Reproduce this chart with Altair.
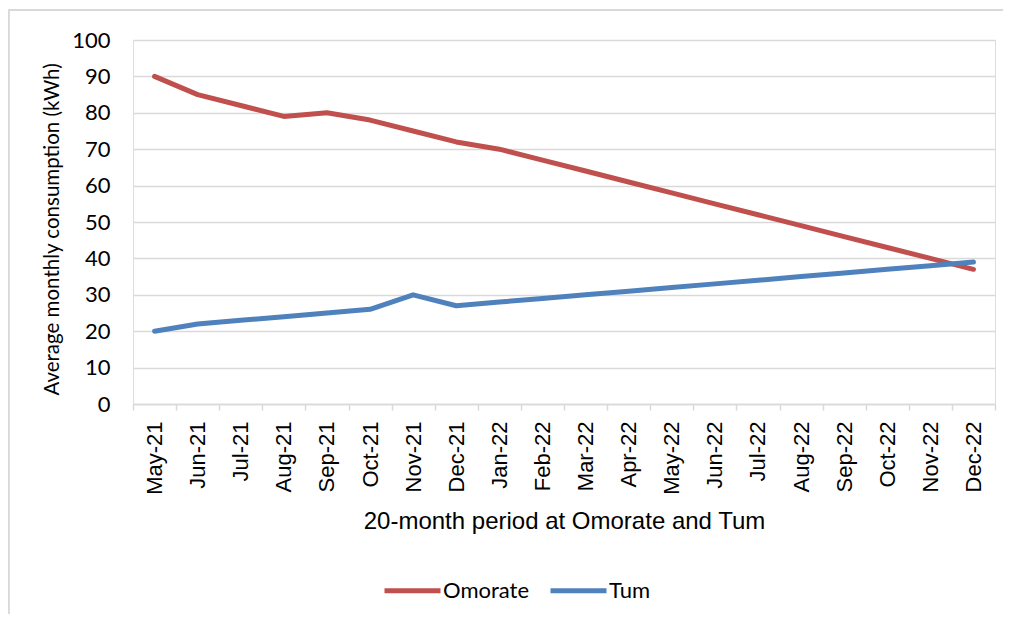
import altair as alt
import pandas as pd

months = ["May-21", "Jun-21", "Jul-21", "Aug-21", "Sep-21", "Oct-21", "Nov-21", "Dec-21",
          "Jan-22", "Feb-22", "Mar-22", "Apr-22", "May-22", "Jun-22", "Jul-22", "Aug-22",
          "Sep-22", "Oct-22", "Nov-22", "Dec-22"]
omorate = [90, 85, 82, 79, 80, 78, 75, 72, 70, 67, 64, 61, 58, 55, 52, 49, 46, 43, 40, 37]
tum = [20, 22, 23, 24, 25, 26, 30, 27, 28, 29, 30, 31, 32, 33, 34, 35, 36, 37, 38, 39]
series = ["Omorate", "Tum"]
colors = ["#C0504D", "#4F81BD"]

rows = []
for name, vals in zip(series, [omorate, tum]):
    for m, v in zip(months, vals):
        rows.append({"Month": m, "Series": name, "Value": v})
df = pd.DataFrame(rows)

W, H = 862, 364

lines = alt.Chart(df).mark_line(strokeWidth=5, strokeCap="round", strokeJoin="round").encode(
    x=alt.X("Month:N", sort=months, scale=alt.Scale(paddingInner=0, paddingOuter=0),
            axis=alt.Axis(title="20-month period at Omorate and Tum", labelAngle=-90,
                          labelAlign="right", labelBaseline="middle",
                          labelFont="Liberation Sans", labelFontSize=22, labelColor="#000000",
                          labelPadding=11, tickBand="extent", tickSize=6,
                          tickColor="#d9d9d9", tickWidth=1.5,
                          domainColor="#d9d9d9", domainWidth=1.5, grid=False,
                          titleFont="Liberation Sans", titleFontSize=24, titleFontWeight="normal",
                          titleColor="#000000", titleBaseline="alphabetic", titleY=124)),
    y=alt.Y("Value:Q", scale=alt.Scale(domain=[0, 100]),
            axis=alt.Axis(title="Average monthly consumption (kWh)", values=list(range(0, 101, 10)),
                          domain=False, ticks=False, labelPadding=23,
                          labelFont="Lato", labelFontSize=22, labelColor="#000000",
                          gridColor="#d9d9d9", gridWidth=1.3,
                          titleFont="Lato", titleFontSize=20.5, titleFontWeight="normal",
                          titleColor="#000000", titleX=-71, titleY=189,
                          titleBaseline="bottom")),
    color=alt.Color("Series:N", scale=alt.Scale(domain=series, range=colors),
                    legend=alt.Legend(title=None, orient="none", direction="horizontal",
                                      legendX=249, legendY=520, symbolType="stroke",
                                      symbolSize=3136, symbolStrokeWidth=5,
                                      labelFont="Lato", labelFontSize=22, labelColor="#000000",
                                      labelOffset=0, columnPadding=10)),
)

border_top = alt.Chart(df).mark_rule(color="#d9d9d9", strokeWidth=1.3).encode(
    x=alt.value(-124.5), x2=alt.value(870), y=alt.value(-30)
)
border_left = alt.Chart(df).mark_rule(color="#d9d9d9", strokeWidth=1.3).encode(
    x=alt.value(-124.5), y=alt.value(-30), y2=alt.value(574)
)

chart = alt.layer(border_top, border_left, lines).properties(
    width=W, height=H,
    autosize=alt.AutoSizeParams(type="none"),
    padding={"left": 125, "top": 32, "right": 8, "bottom": 210},
).configure_view(stroke=None).configure(background="#ffffff")

chart.save("out.html", embed_options={"renderer": "svg", "actions": False})
